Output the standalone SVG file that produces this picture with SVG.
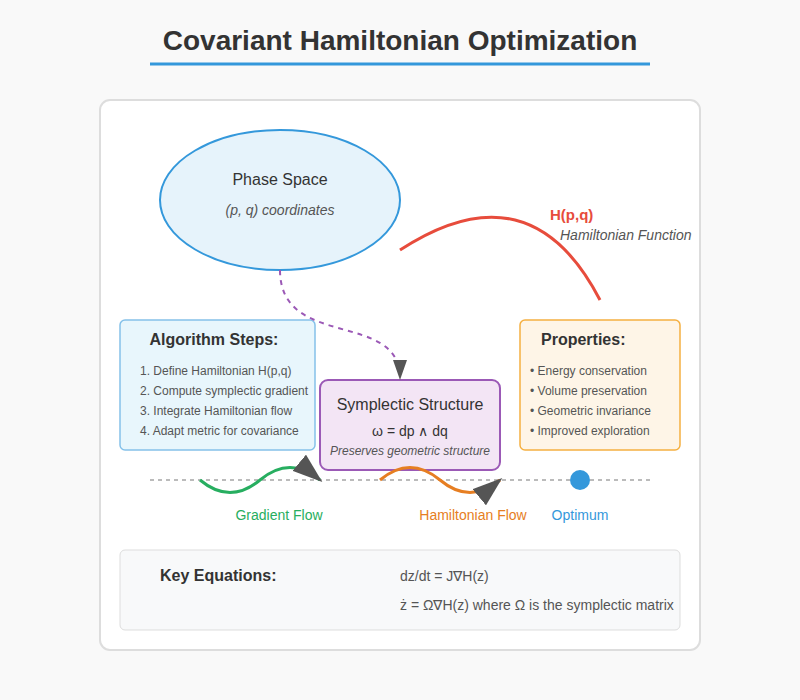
<svg xmlns="http://www.w3.org/2000/svg" width="800" height="700" viewBox="0 0 800 700">
<style>
text{font-family:"Liberation Sans",Arial,sans-serif}
.title{font-size:28px;font-weight:bold;fill:#333}
.h{font-size:16px;font-weight:bold;fill:#333}
.item{font-size:12px;fill:#555}
.lab{font-size:14px}
.eq{font-size:14px;fill:#555}
</style>
<defs>
<marker id="arr" viewBox="0 0 10 7" markerWidth="10" markerHeight="7" refX="9" refY="3.5" orient="auto">
<polygon points="0 0,10 3.5,0 7" fill="#555"/>
</marker>
</defs>
<rect width="800" height="700" fill="#f9f9f9"/>
<g id="title">
<text class="title" x="400" y="50" text-anchor="middle">Covariant Hamiltonian Optimization</text>
<line x1="150" y1="64" x2="650" y2="64" stroke="#3498db" stroke-width="3"/>
</g>
<rect id="panel" x="100" y="100" width="600" height="550" rx="10" fill="#fff" stroke="#ddd" stroke-width="2"/>
<g id="phase-space">
<ellipse cx="280" cy="200" rx="120" ry="70" fill="#e6f3fb" stroke="#3498db" stroke-width="2"/>
<text x="280" y="185" text-anchor="middle" font-size="16" fill="#333">Phase Space</text>
<text x="280" y="215" text-anchor="middle" font-size="14" font-style="italic" fill="#555">(p, q) coordinates</text>
</g>
<g id="hamiltonian">
<path d="M400,250 Q530,165 600,300" fill="none" stroke="#e74c3c" stroke-width="3"/>
<text x="550" y="220" font-size="15" font-weight="bold" fill="#e74c3c">H(p,q)</text>
<text x="560" y="240" font-size="14" font-style="italic" fill="#555">Hamiltonian Function</text>
</g>
<g id="algorithm">
<rect x="120" y="320" width="195" height="130" rx="5" fill="#e8f6fc" stroke="#85c1e9" stroke-width="1.5"/>
<text class="h" x="214" y="345" text-anchor="middle">Algorithm Steps:</text>
<text class="item" x="140" y="375">1. Define Hamiltonian H(p,q)</text>
<text class="item" x="140" y="395">2. Compute symplectic gradient</text>
<text class="item" x="140" y="415">3. Integrate Hamiltonian flow</text>
<text class="item" x="140" y="435">4. Adapt metric for covariance</text>
</g>
<g id="properties">
<rect x="520" y="320" width="160" height="130" rx="5" fill="#fef5e7" stroke="#f5b041" stroke-width="1.5"/>
<text class="h" x="541" y="345">Properties:</text>
<text class="item" x="530" y="375">• Energy conservation</text>
<text class="item" x="530" y="395">• Volume preservation</text>
<text class="item" x="530" y="415">• Geometric invariance</text>
<text class="item" x="530" y="435">• Improved exploration</text>
</g>
<g id="symplectic">
<rect x="320" y="380" width="180" height="90" rx="8" fill="#f3e5f5" stroke="#9b59b6" stroke-width="2"/>
<text x="410" y="410" text-anchor="middle" font-size="16" fill="#333">Symplectic Structure</text>
<text x="410" y="436" text-anchor="middle" font-size="14" fill="#333">ω = dp ∧ dq</text>
<text x="410" y="455" text-anchor="middle" font-size="12" font-style="italic" fill="#555">Preserves geometric structure</text>
</g>
<g id="connectors">
<path d="M280,270 C280,350 400,310 400,378" fill="none" stroke="#9b59b6" stroke-width="2" stroke-dasharray="5,5" marker-end="url(#arr)"/>
<line x1="150" y1="480" x2="650" y2="480" stroke="#bbb" stroke-width="2" stroke-dasharray="4,4"/>
<path d="M200,480 Q230,505 260,480 T320,480" fill="none" stroke="#27ae60" stroke-width="3" marker-end="url(#arr)"/>
<path d="M380,480 Q410,455 440,480 T500,480" fill="none" stroke="#e67e22" stroke-width="3" marker-end="url(#arr)"/>
</g>
<g id="optimum">
<circle cx="580" cy="480" r="10" fill="#3498db"/>
<text class="lab" x="580" y="520" text-anchor="middle" fill="#3498db">Optimum</text>
</g>
<text class="lab" x="279" y="520" text-anchor="middle" fill="#27ae60">Gradient Flow</text>
<text class="lab" x="473" y="520" text-anchor="middle" fill="#e67e22">Hamiltonian Flow</text>
<g id="equations">
<rect x="120" y="550" width="560" height="80" rx="5" fill="#f8f9fa" stroke="#ddd" stroke-width="1"/>
<text x="160" y="581" font-size="16" font-weight="bold" fill="#333">Key Equations:</text>
<text class="eq" x="400" y="581">dz/dt = J∇H(z)</text>
<text class="eq" x="400" y="610">ż = Ω∇H(z) where Ω is the symplectic matrix</text>
</g>
</svg>
